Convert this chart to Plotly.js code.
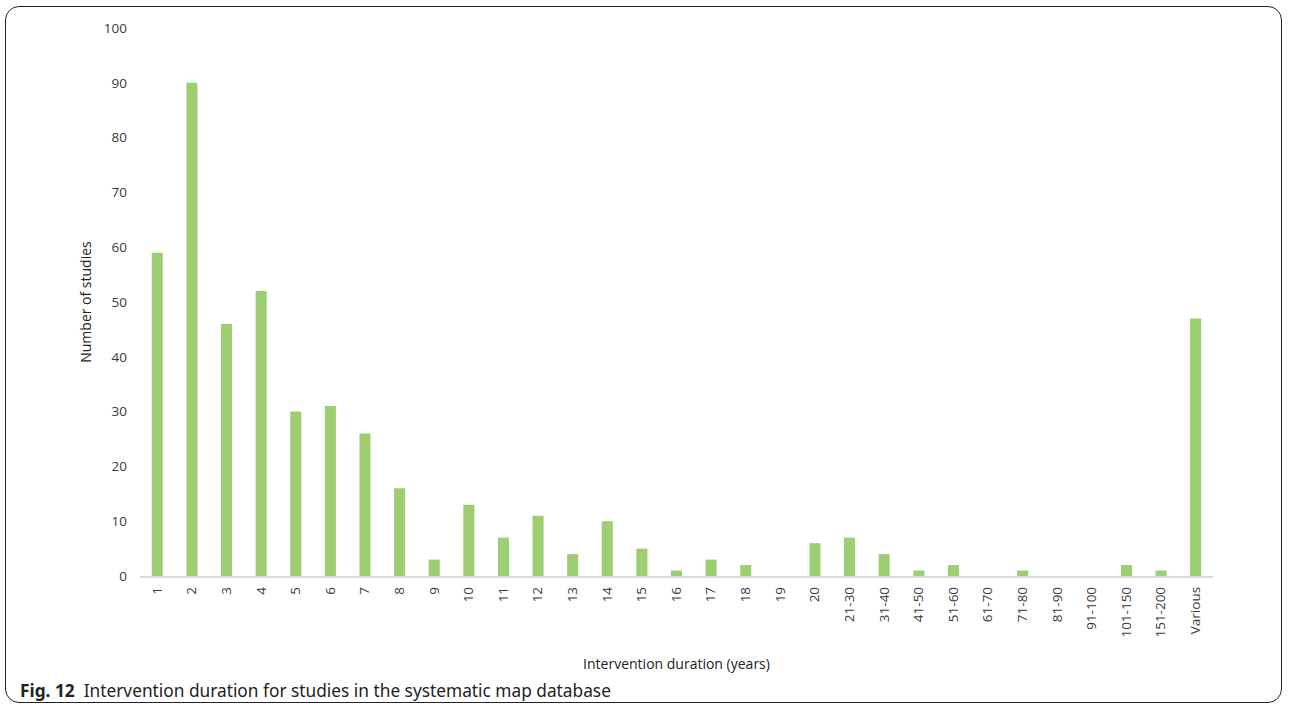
<!DOCTYPE html>
<html>
<head>
<meta charset="utf-8">
<script src="https://cdn.plot.ly/plotly-3.0.1.min.js"></script>
<style>
  html, body { margin:0; padding:0; background:#fff; }
  #wrap { position:relative; width:1290px; height:712px; overflow:hidden; }
  #frame { position:absolute; left:5px; top:6px; width:1277px; height:697px; border:1px solid #222; border-radius:14px; box-sizing:border-box; pointer-events:none; }
  #chart { position:absolute; left:0; top:0; width:1290px; height:712px; }
</style>
</head>
<body>
<div id="wrap">
  <div id="chart"></div>
  <div id="frame"></div>
</div>
<script>
const categories = ["1","2","3","4","5","6","7","8","9","10","11","12","13","14","15","16","17","18","19","20",
  "21-30","31-40","41-50","51-60","61-70","71-80","81-90","91-100","101-150","151-200","Various"];
const studies = [59,90,46,52,30,31,26,16,3,13,7,11,4,10,5,1,3,2,0,6,7,4,1,2,0,1,0,0,2,1,47];
const yTicks = [0,10,20,30,40,50,60,70,80,90,100];

const trace = {
  type:'bar', x:categories, y:studies,
  marker:{color:'#9dcf72'}, width:0.32, hoverinfo:'x+y'
};
const layout = {
  width:1290, height:712,
  margin:{l:140, r:77, t:28, b:136},
  paper_bgcolor:'#fff', plot_bgcolor:'#fff',
  showlegend:false,
  font:{family:'Open Sans, sans-serif', size:13, color:'#404040'},
  xaxis:{
    type:'category', tickangle:-90, showgrid:false, zeroline:false,
    showline:true, linecolor:'#d9d9d9', linewidth:1.5,
    ticks:'outside', ticklen:4, tickcolor:'rgba(0,0,0,0)',
    tickfont:{size:13.5, color:'#3a3a3a'},
    title:{text:'Intervention duration (years)', font:{size:14, color:'#222'}, standoff:22}
  },
  yaxis:{
    range:[0,100], tickvals:yTicks, showgrid:false, zeroline:false, showline:false,
    ticklabelstandoff:12,
    tickfont:{size:13.5, color:'#3a3a3a'},
    title:{text:'Number of studies', font:{size:14, color:'#222'}, standoff:8}
  },
  annotations:[{
    xref:'paper', yref:'paper', x:-122/1073, y:-114/548, xanchor:'left', yanchor:'middle',
    showarrow:false, align:'left',
    text:'<b>Fig. 12</b>  Intervention duration for studies in the systematic map database',
    font:{family:'Noto Sans, sans-serif', size:17.3, color:'#222'}
  }]
};
Plotly.newPlot('chart',[trace],layout,{displayModeBar:false, staticPlot:true});
</script>
</body>
</html>
